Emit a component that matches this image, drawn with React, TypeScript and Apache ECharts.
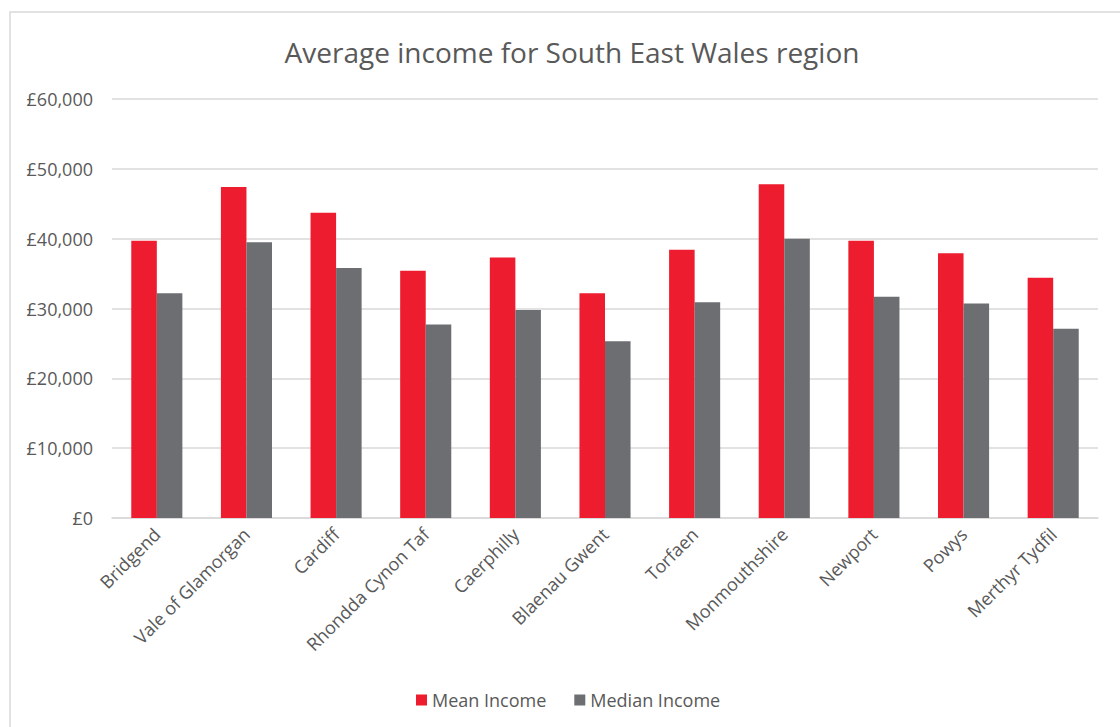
import React, { useEffect, useRef } from "react";
import * as echarts from "echarts";

const categories = [
  "Bridgend",
  "Vale of Glamorgan",
  "Cardiff",
  "Rhondda Cynon Taf",
  "Caerphilly",
  "Blaenau Gwent",
  "Torfaen",
  "Monmouthshire",
  "Newport",
  "Powys",
  "Merthyr Tydfil",
];
const meanIncome = [39700, 47400, 43700, 35400, 37300, 32200, 38400, 47800, 39700, 37900, 34400];
const medianIncome = [32200, 39500, 35800, 27700, 29800, 25300, 30900, 40000, 31700, 30700, 27100];
const seriesNames = ["Mean Income", "Median Income"];
const titleText = "Average income for South East Wales region";

const FONT = "'Open Sans', 'Noto Sans', sans-serif";
const TEXT = "#595959";

export default function App() {
  const ref = useRef<HTMLDivElement>(null);
  useEffect(() => {
    if (!ref.current) return;
    const chart = echarts.init(ref.current, undefined, { renderer: "svg" });
    chart.setOption({
      animation: false,
      backgroundColor: "#ffffff",
      textStyle: { fontFamily: FONT },
      graphic: [
        {
          type: "rect",
          shape: { x: 10, y: 12, width: 1300, height: 900 },
          style: { fill: "none", stroke: "#d9d9d9", lineWidth: 1.5 },
          silent: true,
          z: -10,
        },
      ],
      title: {
        text: titleText,
        left: 567,
        top: 33,
        textAlign: "center",
        textStyle: { fontFamily: FONT, fontSize: 28, fontWeight: 400, color: TEXT },
      },
      legend: {
        data: seriesNames,
        left: 411,
        top: 686,
        itemWidth: 11,
        itemHeight: 11,
        itemGap: 28,
        icon: "rect",
        textStyle: { fontFamily: FONT, fontSize: 18, color: TEXT },
      },
      grid: { left: 112, right: 22, top: 99, bottom: 209, containLabel: false },
      xAxis: {
        type: "category",
        data: categories,
        axisLine: { lineStyle: { color: "#d9d9d9", width: 1.5 } },
        axisTick: { show: false },
        axisLabel: {
          rotate: 45,
          interval: 0,
          margin: 13,
          fontFamily: FONT,
          fontSize: 18,
          color: TEXT,
        },
      },
      yAxis: {
        type: "value",
        min: 0,
        max: 60000,
        interval: 10000,
        axisLine: { show: false },
        axisTick: { show: false },
        splitLine: { lineStyle: { color: "#d9d9d9", width: 1.5 } },
        axisLabel: {
          margin: 19,
          fontFamily: FONT,
          fontSize: 18,
          color: TEXT,
          formatter: (v: number) => "£" + v.toLocaleString("en-GB"),
        },
      },
      series: [
        {
          name: seriesNames[0],
          type: "bar",
          data: meanIncome,
          itemStyle: { color: "#ED1C2E" },
          barGap: "0%",
          barCategoryGap: "43%",
        },
        {
          name: seriesNames[1],
          type: "bar",
          data: medianIncome,
          itemStyle: { color: "#6D6E71" },
          barGap: "0%",
          barCategoryGap: "43%",
        },
      ],
    });
    return () => chart.dispose();
  }, []);
  return (
    <div
      ref={ref}
      style={{ position: "absolute", left: 0, top: 0, width: 1120, height: 727 }}
    />
  );
}
